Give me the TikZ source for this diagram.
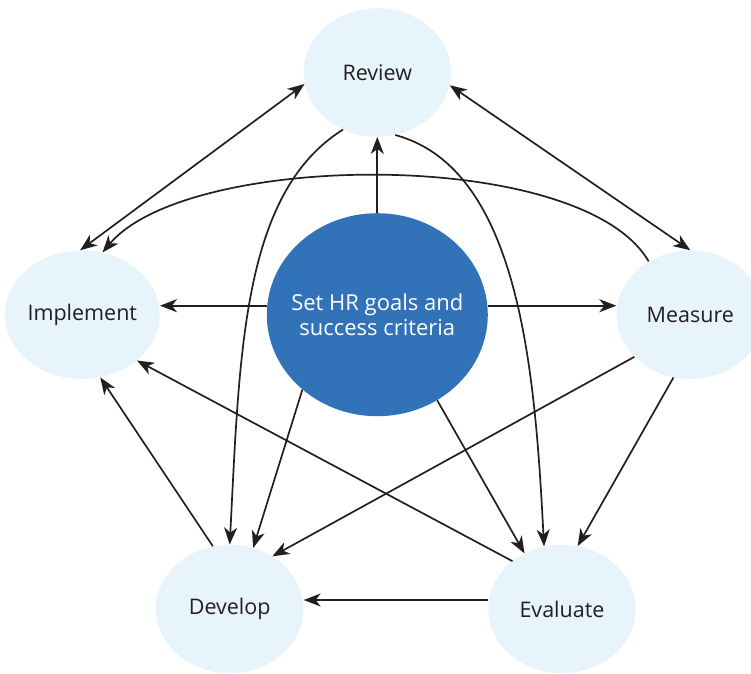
\documentclass[tikz,border=0pt]{standalone}
\usepackage{fontspec}
\setmainfont{Open Sans}
\usetikzlibrary{arrows.meta,shapes.geometric}

\definecolor{stagefill}{RGB}{231,244,251}
\definecolor{goalblue}{RGB}{50,114,185}
\definecolor{inkline}{RGB}{35,31,32}

\begin{document}
\begin{tikzpicture}[x=1pt,y=1pt]
\tikzstyle{stage}=[ellipse,fill=stagefill,minimum width=147.5pt,
  minimum height=128.5pt,inner sep=0pt,text=inkline,
  font=\fontsize{21.5}{25}\selectfont]
\tikzstyle{goal}=[ellipse,fill=goalblue,minimum width=221pt,
  minimum height=203pt,inner xsep=-12pt,inner ysep=0pt,text=white,
  align=center,font=\fontsize{22}{25}\selectfont]
\tikzstyle{link}=[line width=1.7pt,draw=inkline,
  -{Stealth[length=17pt,width=13pt,inset=5pt]}]
\tikzstyle{twoway}=[link,{Stealth[length=17pt,width=13pt,inset=5pt]}-{Stealth[length=17pt,width=13pt,inset=5pt]}]

\useasboundingbox (-377.3,314.7) rectangle (373.7,-358.3);

%the five stages round the goal
\node[goal] (goal) at (0,0) {Set HR goals and\\success criteria};
\node[stage] (review) at (0,242.2) {Review};
\node[stage] (implement) at (-295,0) {Implement};
\node[stage] (measure) at (313,0) {Measure};
\node[stage] (develop) at (-147.6,-294.3) {Develop};
\node[stage] (evaluate) at (184.7,-294.3) {Evaluate};

%arrows out of the goal
\draw[link] (goal.north) -- (review.south);
\draw[link] ([yshift=9pt]goal.west) -- ([yshift=9pt]implement.east);
\draw[link] ([yshift=9pt]goal.east) -- ([yshift=9pt]measure.west);
\draw[link] (goal.225.8) -- (develop.69);
\draw[link] (goal.305.6) -- (evaluate.124.8);

%review both ways
\draw[twoway] (review.189.6) -- (implement.92.5);
\draw[twoway] (review.350.5) -- (measure.90);

%curves from review down
\draw[link] (review.239.5) to[out=212,in=87,out looseness=0.71,
  in looseness=1.13] (develop.90);
\draw[link] (review.286.7) to[out=345,in=93,out looseness=0.76,
  in looseness=1.0] (evaluate.106.8);

%arc from measure over to implement
\draw[link] (measure.128.2) to[out=120,in=50,looseness=0.62]
  (implement.72.5);

%lower arrows
\draw[link] (measure.217.4) -- (develop.51.5);
\draw[link] (measure.255.3) -- (evaluate.76.3);
\draw[link] (evaluate.136.2) -- (implement.320);
\draw[link] (develop.105) -- (implement.286.6);
\draw[link] ([yshift=9pt]evaluate.west) -- ([yshift=9pt]develop.east);

\end{tikzpicture}
\end{document}
